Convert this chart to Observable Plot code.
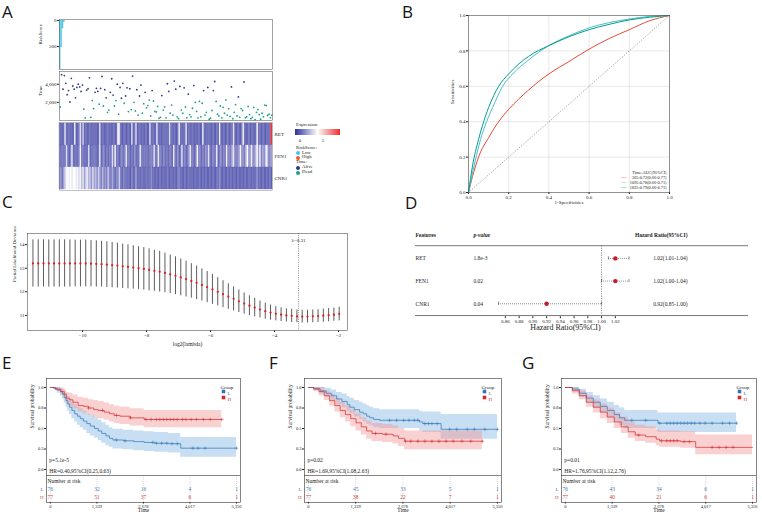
<!DOCTYPE html>
<html><head><meta charset="utf-8">
<script src="https://cdn.jsdelivr.net/npm/d3@7"></script>
<script src="https://cdn.jsdelivr.net/npm/@observablehq/plot@0.6"></script>
<style>
body{margin:0;background:#fff;}
#root{position:relative;width:762px;height:515px;overflow:hidden;background:#fff;font-family:"Liberation Serif",serif;}
.lt{position:absolute;font-family:"Open Sans",sans-serif;font-size:17px;line-height:17px;color:#111;}
.lg{position:absolute;font-size:4.8px;line-height:4.8px;white-space:nowrap;color:#222;font-family:"Liberation Serif",serif;}
.dotl{position:absolute;width:4px;height:4px;border-radius:50%;}
</style></head><body><div id="root"></div>
<script>
// ---------------- DATA ----------------
// Panel A
const riskScore = [1200, 520, 160, 40];
const sampleTime = [1500,5050,3450,4950,4100,2850,3300,2050,4650,3800,
 3450,2500,3650,4000,3700,3200,3900,1250,300,3350,
 3500,4700,350,2200,1300,3100,3550,3200,1800,3550,
 4850,1600,3400,2500,900,1150,3100,4600,2800,1600,
 2200,4000,700,3650,2450,4100,1900,2700,3600,980,
 3500,1200,4900,2000,1050,3400,600,2700,3900,800,
 1850,3100,1400,1650,2250,500,3300,2150,1000,950,
 1550,250,350,2750,1150,1500,300,4050,3200,800,
 1700,600,4350,3450,400,200,3750,1150,800,3600,
 1500,300,2900,650,400,1350,3850,2000,1000,300,
 2100,400,1900,3300,600,900,3650,150,250,1100,
 3300,4300,2100,700,500,1600,300,1450,800,2250,
 600,1300,450,3700,200,900,1750,500,2600,350,
 1300,1100,4250,300,400,1550,650,200,350,1450,
 100,900,1200,650,150,800,400,1700,1650,550,
 700,300,600];
const sampleDead = [1,0,0,0,0,0,0,0,0,0,
 0,0,0,0,0,0,0,1,1,0,
 0,0,1,1,1,0,0,0,1,0,
 0,1,0,0,1,1,0,0,0,1,
 1,0,1,0,0,0,1,0,0,1,
 0,1,0,1,1,0,1,0,0,1,
 1,0,1,1,1,1,0,1,1,1,
 1,1,1,0,1,1,1,0,0,1,
 1,1,0,0,1,1,0,1,1,0,
 1,1,0,1,1,1,0,1,1,1,
 1,1,1,0,1,1,0,1,1,1,
 0,0,1,1,1,1,1,1,1,1,
 1,1,1,0,1,1,1,1,0,1,
 1,1,0,1,1,1,1,1,1,1,
 1,1,1,1,1,1,1,1,1,1,
 1,1,1];
const genes = ["RET","FEN1","CNR1"];
const exprRET = [0.5,0,0.3,0.2,3,0.4,0,0.6,0.2,0,
 0.3,3.5,0.2,0.1,0.5,3,0.2,2.5,0,0.4,
 0.2,0,0.6,0.3,0.1,0.5,0.2,0,0.4,3,
 0.2,0.5,0,0.3,0.1,0.6,0.2,0,0.3,0.5,
 0.1,0.4,4,3,0.2,0,0.5,0.3,0.1,0.2,
 0.4,0,3,0.3,0.5,2.8,0.1,0.2,0.6,0,
 0.3,0.2,0.5,0.1,0,3,0.4,0.2,0.3,0.1,
 3.2,0.5,0,0.2,0.4,0.1,0.6,0.3,0,3,
 0.2,0.5,0.1,0.3,0,0.4,3.3,0.2,0.1,0.5,
 0.2,3,0,0.4,0.3,0.1,0.5,0.2,0,0.3,
 0.5,0.1,0.2,3.4,0.4,0,0.3,0.6,0.1,0.2,
 0.4,0.2,0,0.5,0.3,3.5,0.1,0.2,0.4,0,
 0.3,0.6,0.1,0.2,0.5,3.2,0.2,0,0.4,0.3,
 0.1,0.5,3.4,0.2,0,0.3,0.6,0.1,0.4,0.2,
 0.3,0,3.6,0.2,0.5,0.1,0.3,0.4,0,0.2,
 0.5,0.3,8.5];
const exprFEN1 = [0.6,0.2,0.8,0.4,0.3,3,0.5,0.2,0.9,3.2,
 0.4,0.1,0.6,0.3,0.5,3.5,0.2,0.8,0.4,0.1,
 0.5,3,0.3,0.6,0.2,0.9,0.4,0.1,0.7,3.3,
 0.3,0.5,1,0.2,0.6,0.4,0.8,0.1,3,0.5,
 3.4,0.3,0.7,0.2,0.5,1,0.4,0.6,3.1,0.3,
 0.8,0.2,0.5,0.4,1.2,0.3,0.6,0.1,3.2,0.5,
 0.4,0.9,0.2,0.7,0.3,0.5,1.1,0.4,3,0.6,
 0.2,3.3,0.5,0.8,0.3,1,0.4,0.6,0.2,0.9,
 0.5,0.3,3.4,0.7,0.4,1.2,0.2,0.6,3,0.5,
 0.9,0.3,0.6,1.1,3.2,0.4,0.8,0.2,0.5,3.5,
 0.6,1,0.3,0.8,0.5,1.3,0.4,3.1,0.7,0.2,
 1,0.5,0.8,3.4,0.3,0.6,1.2,0.4,0.9,0.5,
 3.6,0.7,1.1,0.4,2,3.3,0.6,1,0.8,1.5,
 3.5,0.9,1.3,0.5,2.2,3.8,1,1.6,3.4,0.8,
 1.4,2,3.7,1.2,3.5,0.9,1.7,1.1,2.5,3.6,
 1.2,0.8,1.5];
const exprCNR1 = [0.8,1.2,0.6,1.5,2.5,3.6,3.9,3.4,3.8,3.2,
 3.7,3.9,3.3,3.6,2.8,3.5,2,3.1,1.5,2.6,
 3.3,1.8,2.4,1.2,3,1.6,2.2,1,2.7,1.4,
 0.9,2.1,0.7,1.5,0.5,2.4,0.8,0.4,1.8,0.6,
 0.3,1.2,0.5,2.6,0.4,0.2,1,0.3,0.6,0.2,
 0.4,0.1,0.8,0.3,0.2,1.5,0.4,0.1,0.3,0.5,
 0.2,0.4,0.1,0.6,0.3,0.2,1.2,0.1,0.4,0.2,
 0.3,0.1,0.5,0.2,0.4,0.1,0.3,0.2,0.6,0.1,
 0.2,0.4,0.1,0.3,0.2,0.5,1,0.3,0.1,0.2,
 0.4,0.1,0.3,0.2,0.5,0.1,0.2,0.4,0.1,0.3,
 0.2,0.5,0.1,0.3,0.2,0.4,0.1,0.2,0.3,0.1,
 0.4,0.2,0.1,0.3,0.5,1.1,0.2,0.1,0.3,0.2,
 0.1,0.4,0.2,0.3,0.1,0.5,0.2,0.1,0.4,0.2,
 0.3,0.1,0.2,0.4,0.1,0.3,0.2,0.5,0.1,0.2,
 0.4,0.1,1.3,0.2,0.3,0.1,0.4,0.2,0.1,0.3,
 0.2,0.5,0.1];

// Panel B
const rocLabels = ["365:0.72(0.66-0.77)","1095:0.78(0.66-0.71)","1825:0.79(0.66-0.71)"];
const roc365Fpr = [0,0.02,0.05,0.1,0.15,0.2,0.3,0.4,0.5,0.6,0.7,0.8,0.9,1];
const roc365Tpr = [0,0.09,0.2,0.31,0.4,0.47,0.58,0.67,0.74,0.81,0.87,0.92,0.97,1];
const roc1095Fpr = [0,0.02,0.04,0.06,0.09,0.12,0.17,0.22,0.3,0.4,0.5,0.6,0.7,0.8,0.9,1];
const roc1095Tpr = [0,0.11,0.21,0.3,0.4,0.48,0.6,0.67,0.75,0.83,0.885,0.93,0.96,0.98,0.995,1];
const roc1825Fpr = [0,0.02,0.05,0.07,0.1,0.15,0.2,0.3,0.4,0.5,0.6,0.7,0.8,0.9,1];
const roc1825Tpr = [0,0.15,0.3,0.38,0.48,0.6,0.67,0.77,0.83,0.88,0.92,0.95,0.975,0.99,1];

// Panel C
const cvLog2Lambda = [-11.55,-11.385,-11.22,-11.055,-10.89,-10.725,-10.56,-10.395,-10.23,-10.065,
 -9.9,-9.735,-9.57,-9.405,-9.24,-9.075,-8.91,-8.745,-8.58,-8.415,
 -8.25,-8.085,-7.92,-7.755,-7.59,-7.425,-7.26,-7.095,-6.93,-6.765,
 -6.6,-6.435,-6.27,-6.105,-5.94,-5.775,-5.61,-5.445,-5.28,-5.115,
 -4.95,-4.785,-4.62,-4.455,-4.29,-4.125,-3.96,-3.795,-3.63,-3.465,
 -3.3,-3.135,-2.97,-2.805,-2.64,-2.475,-2.31,-2.145,-1.98];
const cvMean = [13.2,13.2,13.2,13.2,13.2,13.2,13.2,13.2,13.2,13.2,
 13.2,13.19,13.18,13.17,13.15,13.13,13.11,13.08,13.06,13.03,
 13.0,12.97,12.93,12.89,12.85,12.8,12.74,12.68,12.61,12.54,
 12.46,12.38,12.29,12.2,12.1,12.0,11.9,11.8,11.7,11.6,
 11.5,11.41,11.33,11.25,11.18,11.12,11.07,11.03,11.0,10.98,
 10.96,10.95,10.95,10.96,10.97,10.99,11.01,11.03,11.06];
const cvHalf = [1.0,1.0,1.0,1.0,1.0,1.0,1.0,1.0,0.99,0.99,
 0.99,0.98,0.98,0.97,0.97,0.96,0.95,0.94,0.93,0.92,
 0.91,0.9,0.89,0.87,0.86,0.84,0.82,0.8,0.78,0.76,
 0.73,0.71,0.68,0.66,0.63,0.6,0.57,0.54,0.51,0.48,
 0.45,0.42,0.39,0.36,0.34,0.32,0.3,0.29,0.28,0.28,
 0.27,0.27,0.27,0.27,0.27,0.28,0.28,0.28,0.29];
const lambdaMinLog2 = -3.25;
const lambdaMinLabel = "λ=0.31";

// Panel D
const features = ["RET","FEN1","CNR1"];
const pValues = ["1.8e-3","0.02","0.04"];
const hazard = [1.02,1.02,0.92];
const hazardLow = [1.01,1.00,0.85];
const hazardHigh = [1.04,1.04,1.00];
const hrTicks = [0.86,0.88,0.90,0.92,0.94,0.96,0.98,1.00,1.02];

// Panels E, F, G
const kmTicks = [0,1339,2678,4017,5356];
const kmE = {
  p:"p=5.1e-5", hr:"HR=0.40,95%CI(0.25,0.63)",
  L:{t:[0,100,200,300,350,400,450,500,550,620,700,780,860,950,1050,1150,1270,1380,1480,1600,1700,1800,2100,2400,2700,3000,3400,3750,5356],
     s:[1,0.99,0.97,0.95,0.92,0.88,0.84,0.8,0.76,0.72,0.68,0.65,0.62,0.59,0.56,0.53,0.5,0.47,0.44,0.41,0.38,0.36,0.35,0.34,0.33,0.32,0.315,0.26,0.26],
     lo:[1,0.97,0.93,0.9,0.86,0.81,0.76,0.71,0.67,0.62,0.58,0.54,0.51,0.48,0.44,0.41,0.38,0.35,0.32,0.29,0.27,0.25,0.24,0.23,0.22,0.21,0.2,0.15,0.15],
     hi:[1,1,1,0.99,0.98,0.95,0.92,0.89,0.86,0.82,0.79,0.76,0.74,0.71,0.68,0.66,0.63,0.6,0.57,0.54,0.51,0.49,0.48,0.47,0.46,0.45,0.44,0.39,0.39],
     cens:[1900,2150,2950,3050,3200,3350,3500,3650,4100,4250,4450,5356],
     risk:[76,32,16,4,1]},
  H:{t:[0,150,300,400,460,550,650,800,950,1100,1250,1380,1550,1700,1840,2000,2300,2700,4930],
     s:[1,0.98,0.95,0.92,0.87,0.85,0.82,0.78,0.77,0.75,0.73,0.72,0.7,0.68,0.66,0.65,0.63,0.61,0.61],
     lo:[1,0.95,0.9,0.86,0.8,0.77,0.74,0.7,0.68,0.66,0.63,0.62,0.6,0.58,0.56,0.55,0.53,0.51,0.51],
     hi:[1,1,0.99,0.98,0.94,0.93,0.91,0.88,0.87,0.85,0.84,0.83,0.81,0.79,0.77,0.76,0.74,0.72,0.72],
     cens:[1100,1500,1900,2300,2750,2900,3050,3150,3250,3350,3450,3550,3650,3800,3900,4050,4200,4400,4600,4930],
     risk:[77,51,37,6,1]}
};
const kmF = {
  p:"p=0.02", hr:"HR=1.69,95%CI(1.08,2.63)",
  L:{t:[0,150,330,500,650,800,950,1100,1175,1300,1450,1550,1650,1740,1850,2020,3150,3240,3760,5356],
     s:[1,0.99,0.96,0.93,0.9,0.86,0.83,0.79,0.76,0.73,0.7,0.68,0.65,0.63,0.61,0.6,0.58,0.56,0.49,0.49],
     lo:[1,0.97,0.92,0.88,0.84,0.79,0.75,0.71,0.68,0.64,0.61,0.58,0.55,0.53,0.51,0.5,0.47,0.45,0.37,0.37],
     hi:[1,1,1,0.99,0.97,0.94,0.92,0.89,0.87,0.84,0.82,0.8,0.78,0.76,0.74,0.73,0.71,0.7,0.67,0.67],
     cens:[2300,2500,2700,2850,3000,3100,3300,3400,3500,3650,4000,4200,4500,4700,5000,5356],
     risk:[76,45,33,5,1]},
  H:{t:[0,150,300,450,600,750,900,1050,1200,1350,1500,1650,1800,2100,2400,2550,2730,4930],
     s:[1,0.98,0.95,0.9,0.84,0.78,0.72,0.67,0.62,0.57,0.52,0.47,0.44,0.43,0.41,0.38,0.345,0.345],
     lo:[1,0.95,0.9,0.84,0.77,0.7,0.63,0.58,0.52,0.47,0.42,0.37,0.34,0.33,0.31,0.28,0.24,0.24],
     hi:[1,1,1,0.96,0.92,0.87,0.82,0.77,0.73,0.68,0.63,0.59,0.56,0.55,0.53,0.5,0.47,0.47],
     cens:[1900,2200,2750,2900,3100,3300,3500,3700,3900,4100,4350,4600,4930],
     risk:[77,38,22,7,1]}
};
const kmG = {
  p:"p=0.01", hr:"HR=1.76,95%CI(1.12,2.76)",
  L:{t:[0,200,400,600,800,1000,1200,1400,1550,1700,2650,4900],
     s:[1,0.98,0.93,0.87,0.82,0.77,0.72,0.67,0.63,0.6,0.565,0.565],
     lo:[1,0.95,0.88,0.81,0.75,0.69,0.63,0.58,0.53,0.5,0.45,0.45],
     hi:[1,1,0.98,0.94,0.9,0.86,0.82,0.78,0.75,0.72,0.69,0.69],
     cens:[1900,2300,2700,2900,3000,3100,3200,3300,3400,3500,3600,3700,3850,4000,4200,4500,4700,4900],
     risk:[76,43,34,6,1]},
  H:{t:[0,200,400,600,800,1000,1200,1400,1600,1800,2000,2300,2600,2700,3300,3730,5356],
     s:[1,0.96,0.9,0.82,0.76,0.7,0.64,0.58,0.52,0.46,0.42,0.4,0.37,0.35,0.34,0.27,0.27],
     lo:[1,0.92,0.85,0.76,0.69,0.62,0.56,0.5,0.44,0.38,0.34,0.32,0.29,0.27,0.26,0.18,0.18],
     hi:[1,1,0.96,0.9,0.85,0.8,0.75,0.69,0.64,0.58,0.54,0.52,0.49,0.47,0.46,0.42,0.42],
     cens:[2100,2750,2900,3000,3100,3200,3400,3550,4200,4400,4600,4800],
     risk:[77,40,21,6,1]}
};

// ---------------- RENDER ----------------
const root = document.getElementById("root");
const SERIF = "Liberation Serif, serif";
const fmtComma = d3.format(",");
const fmt1 = d3.format(".1f");
const fmt2 = d3.format(".2f");
function place(el, left, top){ el.style.position="absolute"; el.style.left=left+"px"; el.style.top=top+"px"; root.appendChild(el); return el; }
function panel(box, m, spec, fs){
  const [x0,y0,x1,y1]=box; const [ml,mr,mt,mb]=m;
  const el = Plot.plot({width:x1-x0+ml+mr, height:y1-y0+mt+mb, marginLeft:ml, marginRight:mr, marginTop:mt, marginBottom:mb,
    style:{fontFamily:SERIF, fontSize:(fs||5)+"px", background:"transparent", overflow:"visible", color:"#222"}, ...spec});
  return place(el, x0-ml, y0-mt);
}
function html(cls, text, left, top, extra){
  const d=document.createElement("div"); d.className=cls; d.textContent=text;
  d.style.left=left+"px"; d.style.top=top+"px"; if(extra) Object.assign(d.style, extra); root.appendChild(d); return d;
}
// panel letters
[["A",2,3],["B",402,3],["C",2,193],["D",405,194],["E",2,354],["F",269,354],["G",522,354]].forEach(([t,x,y])=>html("lt",t,x,y));

// A1 risk score
panel([59,19,272,69],[30,2,2,2],{
  x:{domain:[0,153], axis:null},
  y:{domain:[-19,942], reverse:true, ticks:[0,500], tickFormat:d=>String(d), tickSize:2, tickPadding:1, label:null},
  marks:[
    Plot.rect(riskScore,{x1:(d,i)=>i, x2:(d,i)=>i+1, y1:0, y2:d=>d, fill:"#4cc3ee", clip:true}),
    Plot.frame({stroke:"#666", strokeWidth:0.6}),
    Plot.text(["RiskScore"],{frameAnchor:"left", dx:-19, rotate:-90, fontSize:5})
  ]
});
// A2 survival time
const samples = sampleTime.map((t,i)=>({x:i+0.5, t, st: sampleDead[i] ? "Dead" : "Alive"}));
panel([59,71,272,120],[30,2,1,1],{
  x:{domain:[0,153], axis:null},
  y:{domain:[0,5400], ticks:[2000,4000], tickFormat:fmtComma, tickSize:2, tickPadding:1, label:null},
  color:{domain:["Alive","Dead"], range:["#303a8c","#1f9e8c"]},
  marks:[
    Plot.frame({stroke:"#666", strokeWidth:0.6}),
    Plot.dot(samples,{x:"x", y:"t", r:0.9, fill:"st"}),
    Plot.text(["Time"],{frameAnchor:"left", dx:-19, rotate:-90, fontSize:5})
  ]
});
// A3 heatmap
const heat = [];
[exprRET, exprFEN1, exprCNR1].forEach((arr,gi)=>arr.forEach((v,i)=>heat.push({g:genes[gi], i, v})));
panel([59,122,272,190],[2,24,1,1],{
  x:{domain:[0,153], axis:null},
  y:{type:"band", domain:genes, padding:0, axis:"right", tickSize:0, tickPadding:2, label:null},
  color:{type:"linear", domain:[-1.1,3.8,8.7], range:["#2c2e9c","#ffffff","#ee2c2c"], clamp:true},
  marks:[
    Plot.barX(heat,{x1:"i", x2:d=>d.i+1, y:"g", fill:"v", stroke:"v", strokeWidth:0.3}),
    Plot.frame({stroke:"#888", strokeWidth:0.5})
  ]
});
// A legend
html("lg","Expression",296,122.6);
const grad=document.createElement("div");
Object.assign(grad.style,{position:"absolute",left:"295px",top:"129px",width:"45px",height:"6px",background:"linear-gradient(to right,#2c2e9c,#ffffff 50%,#ee2c2c)"});
root.appendChild(grad);
html("lg","0",298.8,138.6); html("lg","5",321.8,138.6);
html("lg","RiskScore:",296,145.6);
[["Low","#4cc3ee",152.9],["High","#ef5a30",157.8]].forEach(([t,c,y])=>{
  const d=document.createElement("div"); d.className="dotl"; Object.assign(d.style,{left:"296px",top:(y-2)+"px",background:c}); root.appendChild(d);
  html("lg",t,302,y-2.4);
});
html("lg","Time:",296,160.3);
[["Alive","#303a8c",167.6],["Dead","#1f9e8c",172.5]].forEach(([t,c,y])=>{
  const d=document.createElement("div"); d.className="dotl"; Object.assign(d.style,{left:"296px",top:(y-2)+"px",background:c}); root.appendChild(d);
  html("lg",t,302,y-2.4);
});

// B ROC
const rocColors = ["#E64B35","#4DBBD5","#00A087"];
const rocSets = [[roc365Fpr,roc365Tpr],[roc1095Fpr,roc1095Tpr],[roc1825Fpr,roc1825Tpr]];
const rocPts = [];
rocSets.forEach(([f,t],k)=>f.forEach((x,i)=>rocPts.push({k:rocLabels[k], x, y:t[i]})));
const axTicks = [0,0.2,0.4,0.6,0.8,1];
const legendDy = [-13.5,-8.5,-3.5];
panel([468,15,669,192],[24,6,4,16],{
  x:{domain:[0,1], ticks:axTicks, tickFormat:fmt1, tickSize:2, tickPadding:1, label:null, grid:true},
  y:{domain:[0,1], ticks:axTicks, tickFormat:fmt1, tickSize:2, tickPadding:1, label:null, grid:true},
  color:{domain:rocLabels, range:rocColors},
  marks:[
    Plot.link([0],{x1:0,y1:0,x2:1,y2:1, stroke:"#555", strokeWidth:0.6, strokeDasharray:"1,1.5"}),
    Plot.line(rocPts,{x:"x", y:"y", z:"k", stroke:"k", strokeWidth:1, curve:"monotone-x"}),
    Plot.frame({stroke:"#555", strokeWidth:0.6}),
    Plot.text(["Time:AUC(95%CI)"],{frameAnchor:"bottom-right", dx:-3, dy:-18.5, textAnchor:"end", fontSize:4.3}),
    ...rocLabels.map((lab,i)=>Plot.text([lab],{frameAnchor:"bottom-right", dx:-3, dy:legendDy[i], textAnchor:"end", fontSize:4.3})),
    ...rocLabels.map((lab,i)=>Plot.text(["—"],{frameAnchor:"bottom-right", dx:-43, dy:legendDy[i], textAnchor:"end", fontSize:5.5, fill:rocColors[i]})),
    Plot.text(["Sensitivities"],{frameAnchor:"left", dx:-16, rotate:-90, fontSize:5}),
    Plot.text(["1-Specificities"],{frameAnchor:"bottom", dy:11, fontSize:5})
  ]
});

// C lasso CV
const cv = cvLog2Lambda.map((x,i)=>({x, m:cvMean[i], lo:cvMean[i]-cvHalf[i], hi:cvMean[i]+cvHalf[i]}));
panel([27,233,347,330],[22,4,2,20],{
  x:{domain:[-11.72,-1.72], ticks:[-10,-8,-6,-4,-2], tickFormat:d=>String(d).replace("-","−"), tickSize:2, tickPadding:1, label:null},
  y:{domain:[10.36,14.47], ticks:[11,12,13,14], tickFormat:d=>String(d), tickSize:2, tickPadding:1, label:null},
  marks:[
    Plot.ruleX(cv,{x:"x", y1:"lo", y2:"hi", stroke:"#333", strokeWidth:0.8}),
    Plot.dot(cv,{x:"x", y:"m", r:1.1, fill:"#e41a1c"}),
    Plot.ruleX([lambdaMinLog2],{stroke:"#444", strokeWidth:0.6, strokeDasharray:"1,1.2"}),
    Plot.text([lambdaMinLabel],{x:lambdaMinLog2, frameAnchor:"top", dy:5, fontSize:5}),
    Plot.frame({stroke:"#555", strokeWidth:0.6}),
    Plot.text(["Partial Likelihood Deviance"],{frameAnchor:"left", dx:-13, rotate:-90, fontSize:5}),
    Plot.text(["log2(lambda)"],{frameAnchor:"bottom", dy:15, fontSize:5.5})
  ]
});

// D forest
const rows = features.map((f,i)=>({f, p:pValues[i], hr:hazard[i], lo:hazardLow[i], hi:hazardHigh[i], r:i+1,
  txt:`${fmt2(hazard[i])}(${fmt2(hazardLow[i])}-${fmt2(hazardHigh[i])})`}));
panel([498,224.8,632,316],[90,126,10,20],{
  x:{domain:[0.85,1.045], ticks:hrTicks, tickFormat:fmt2, tickSize:2, tickPadding:1, label:null},
  y:{domain:[-0.45,3.57], reverse:true, axis:null},
  marks:[
    Plot.ruleY([0.44,3.52],{insetLeft:-83, insetRight:-116, stroke:"#555", strokeWidth:0.8}),
    Plot.ruleX([1],{y1:0.44, y2:3.52, stroke:"#444", strokeWidth:0.6, strokeDasharray:"1.2,1.2"}),
    Plot.ruleY(rows,{y:"r", x1:"lo", x2:"hi", stroke:"#444", strokeWidth:0.6, strokeDasharray:"1,1"}),
    Plot.ruleX(rows,{x:"lo", y1:d=>d.r-0.07, y2:d=>d.r+0.07, stroke:"#444", strokeWidth:0.6}),
    Plot.ruleX(rows,{x:"hi", y1:d=>d.r-0.07, y2:d=>d.r+0.07, stroke:"#444", strokeWidth:0.6}),
    Plot.dot(rows,{x:"hr", y:"r", r:2.2, fill:"#c8192c"}),
    Plot.text(["Features"],{y:0, frameAnchor:"left", dx:-83, textAnchor:"start", fontWeight:"bold", fontSize:5.5}),
    Plot.text(["p-value"],{y:0, frameAnchor:"left", dx:-25, textAnchor:"start", fontWeight:"bold", fontStyle:"italic", fontSize:5.5}),
    Plot.text(["Hazard Ratio(95%CI)"],{y:0, frameAnchor:"right", dx:55, fontWeight:"bold", fontSize:5.5}),
    Plot.text(rows,{y:"r", text:"f", frameAnchor:"left", dx:-83, textAnchor:"start", fontSize:5.5}),
    Plot.text(rows,{y:"r", text:"p", frameAnchor:"left", dx:-25, textAnchor:"start", fontSize:5.5}),
    Plot.text(rows,{y:"r", text:"txt", frameAnchor:"right", dx:55, fontSize:5.5}),
    Plot.text(["Hazard Ratio(95%CI)"],{frameAnchor:"bottom", dy:13, fontSize:8})
  ]
});

// E, F, G Kaplan-Meier
function stepAt(ts, ss, x){ let v=ss[0]; for(let i=0;i<ts.length;i++){ if(ts[i]<=x) v=ss[i]; } return v; }
const BLUE="#2f75b5", RED="#d7262b";
function km(box, G){
  const mk = g => g.t.map((t,i)=>({t, s:g.s[i], lo:g.lo[i], hi:g.hi[i]}));
  const L = mk(G.L), H = mk(G.H);
  const cL = G.L.cens.map(t=>({t, s:stepAt(G.L.t,G.L.s,t)}));
  const cH = G.H.cens.map(t=>({t, s:stepAt(G.H.t,G.H.s,t)}));
  const rL = kmTicks.map((t,i)=>({t, n:String(G.L.risk[i])}));
  const rH = kmTicks.map((t,i)=>({t, n:String(G.H.risk[i])}));
  const SEP=-0.0732, YH=-0.146, YL=-0.244, YHH=-0.341, BOT=-0.4024;
  panel(box,[22,4,3,13],{
    x:{domain:[-110,5470], ticks:kmTicks, tickFormat:fmtComma, tickSize:1.5, tickPadding:0.5, label:null},
    y:{domain:[BOT,1.1098], ticks:[0,0.25,0.5,0.75,1], tickFormat:fmt1, tickSize:2, tickPadding:1, label:null},
    marks:[
      Plot.areaY(L,{x:"t", y1:"lo", y2:"hi", curve:"step-after", fill:"#8fbde8", fillOpacity:0.5}),
      Plot.areaY(H,{x:"t", y1:"lo", y2:"hi", curve:"step-after", fill:"#f29a9a", fillOpacity:0.45}),
      Plot.line(L,{x:"t", y:"s", curve:"step-after", stroke:BLUE, strokeWidth:0.7}),
      Plot.line(H,{x:"t", y:"s", curve:"step-after", stroke:RED, strokeWidth:0.7}),
      Plot.dot(cL,{x:"t", y:"s", symbol:"plus", r:1.3, stroke:BLUE, strokeWidth:0.5}),
      Plot.dot(cH,{x:"t", y:"s", symbol:"plus", r:1.3, stroke:RED, strokeWidth:0.5}),
      Plot.ruleX(kmTicks,{y1:BOT, y2:SEP, stroke:"#aaa", strokeWidth:0.5, strokeDasharray:"0.8,1.2"}),
      Plot.ruleY([SEP],{stroke:"#333", strokeWidth:0.6}),
      Plot.frame({stroke:"#333", strokeWidth:0.6}),
      Plot.text([G.p],{x:0, y:0.11, textAnchor:"start", dx:-1, fontSize:5.5}),
      Plot.text([G.hr],{x:0, y:-0.024, textAnchor:"start", dx:-1, fontSize:5.5}),
      Plot.text(["Number at risk"],{y:YH, frameAnchor:"left", dx:1, textAnchor:"start", fontSize:5.5}),
      Plot.text(rL,{x:"t", y:YL, text:"n", fill:"#3f7cc0", fontSize:5.5}),
      Plot.text(rH,{x:"t", y:YHH, text:"n", fill:"#d23a3a", fontSize:5.5}),
      Plot.text(["L"],{y:YL, frameAnchor:"left", dx:-3, textAnchor:"end", fill:"#3f7cc0", fontSize:5}),
      Plot.text(["H"],{y:YHH, frameAnchor:"left", dx:-3, textAnchor:"end", fill:"#d23a3a", fontSize:5}),
      Plot.text(["Survival probability"],{y:0.5, frameAnchor:"left", dx:-14, rotate:-90, fontSize:5.5}),
      Plot.text(["Time"],{frameAnchor:"bottom", dy:9.8, fontSize:5.5}),
      Plot.text(["Group"],{frameAnchor:"top-right", dx:-20, dy:7, textAnchor:"start", fontSize:5}),
      Plot.dot(["L"],{frameAnchor:"top-right", dx:-17, dy:13, symbol:"square", r:2, fill:BLUE}),
      Plot.dot(["H"],{frameAnchor:"top-right", dx:-17, dy:19, symbol:"square", r:2, fill:RED}),
      Plot.text(["L"],{frameAnchor:"top-right", dx:-13, dy:13, textAnchor:"start", fontSize:5, fill:BLUE}),
      Plot.text(["H"],{frameAnchor:"top-right", dx:-13, dy:19, textAnchor:"start", fontSize:5, fill:RED})
    ]
  }, 4.5);
}
km([46,378,240,502], kmE);
km([304,378,501,502], kmF);
km([561,378,756,502], kmG);
</script></body></html>
